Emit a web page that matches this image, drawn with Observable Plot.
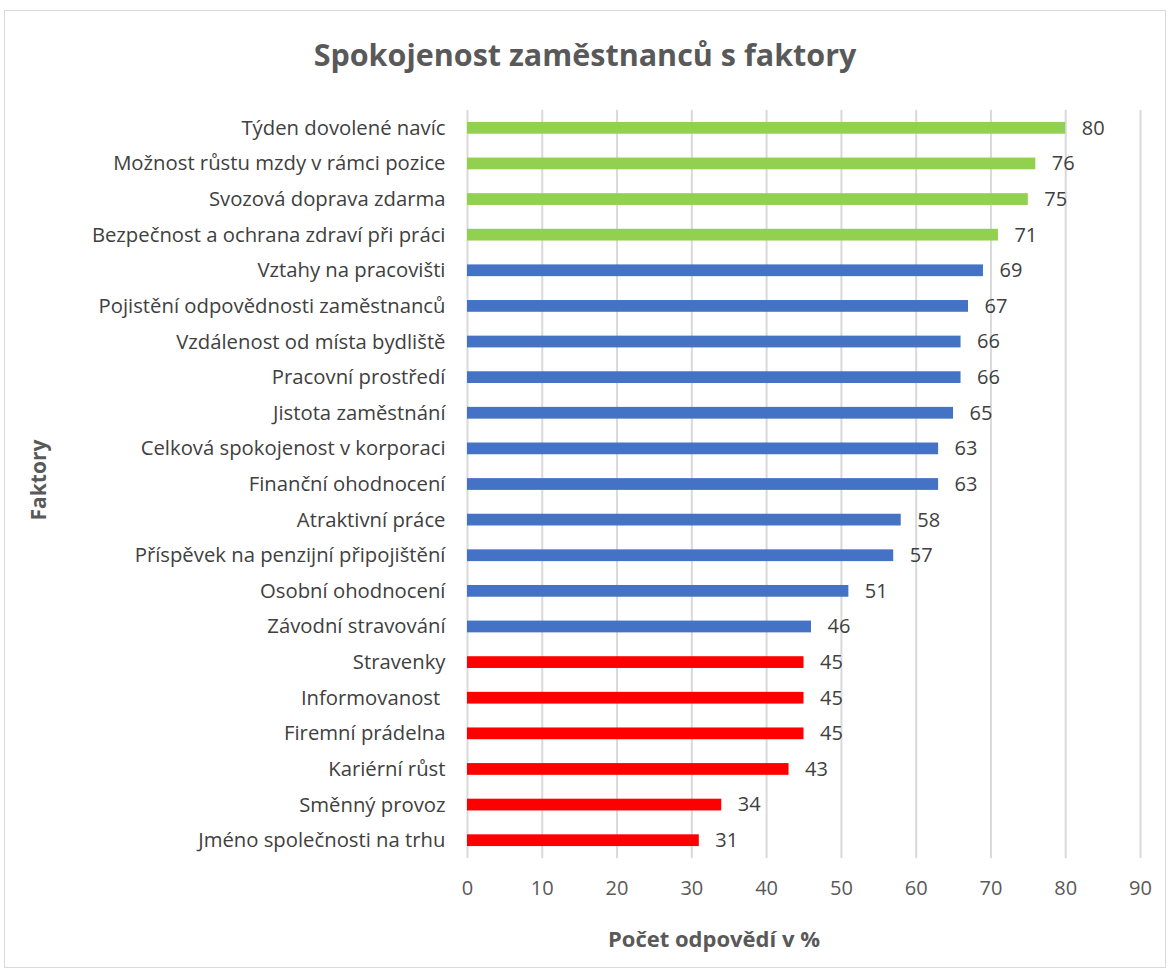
<!DOCTYPE html>
<html>
<head>
<meta charset="utf-8">
<script src="https://cdn.jsdelivr.net/npm/d3@7"></script>
<script src="https://cdn.jsdelivr.net/npm/@observablehq/plot@0.6"></script>
<style>
  html, body { margin: 0; padding: 0; background: #fff; }
  #wrap { position: relative; width: 1170px; height: 971px; overflow: hidden; font-family: "Open Sans", sans-serif; }
  #frame { position: absolute; left: 4px; top: 10px; width: 1162px; height: 958px; border: 1px solid #d9d9d9; box-sizing: border-box; }
  #title { position: absolute; left: 0; width: 1170px; top: 33px; text-align: center; font-size: 30.5px; font-weight: bold; color: #595959; }
  #xlabel { position: absolute; left: 714px; top: 923px; transform: translateX(-50%); font-size: 22px; font-weight: bold; color: #595959; white-space: nowrap; }
  #ylabel { position: absolute; left: 38px; top: 480px; transform: translate(-50%, -50%) rotate(-90deg); font-size: 21px; font-weight: bold; color: #595959; white-space: nowrap; }
  #chart { position: absolute; left: 0; top: 0; }
</style>
</head>
<body>
<div id="wrap">
  <div id="frame"></div>
  <div id="chart"></div>
  <div id="title">Spokojenost zaměstnanců s faktory</div>
  <div id="xlabel">Počet odpovědí v %</div>
  <div id="ylabel">Faktory</div>
</div>
<script>
const categories = [
  "Týden dovolené navíc",
  "Možnost růstu mzdy v rámci pozice",
  "Svozová doprava zdarma",
  "Bezpečnost a ochrana zdraví při práci",
  "Vztahy na pracovišti",
  "Pojistění odpovědnosti zaměstnanců",
  "Vzdálenost od místa bydliště",
  "Pracovní prostředí",
  "Jistota zaměstnání",
  "Celková spokojenost v korporaci",
  "Finanční ohodnocení",
  "Atraktivní práce",
  "Příspěvek na penzijní připojištění",
  "Osobní ohodnocení",
  "Závodní stravování",
  "Stravenky",
  "Informovanost ",
  "Firemní prádelna",
  "Kariérní růst",
  "Směnný provoz",
  "Jméno společnosti na trhu"
];
const values = [80, 76, 75, 71, 69, 67, 66, 66, 65, 63, 63, 58, 57, 51, 46, 45, 45, 45, 43, 34, 31];
const groups = ["high","high","high","high","mid","mid","mid","mid","mid","mid","mid","mid","mid","mid","mid","low","low","low","low","low","low"];
const groupNames = ["high", "mid", "low"];
const groupColors = ["#92D050", "#4472C4", "#FF0000"];
const xTicks = [0, 10, 20, 30, 40, 50, 60, 70, 80, 90];

const data = categories.map((c, i) => ({factor: c, value: values[i], group: groups[i]}));

const chart = Plot.plot({
  width: 1170,
  height: 971,
  marginLeft: 467,
  marginRight: 30,
  marginTop: 110,
  marginBottom: 113,
  style: { fontFamily: "Open Sans, sans-serif", background: "transparent" },
  x: { domain: [0, 90], ticks: xTicks, label: null },
  y: { domain: categories, paddingInner: 0.67, paddingOuter: 0.335, round: false, label: null },
  color: { domain: groupNames, range: groupColors },
  marks: [
    Plot.gridX(xTicks, { stroke: "#d9d9d9", strokeOpacity: 1, strokeWidth: 2 }),
    Plot.barX(data, { y: "factor", x: "value", fill: "group" }),
    Plot.text(data, { y: "factor", x: "value", text: d => String(d.value), dx: 16, textAnchor: "start", fontSize: 20, fill: "#404040" }),
    Plot.axisX({ ticks: xTicks, tickSize: 0, tickPadding: 22, fontSize: 20, color: "#595959", label: null }),
    Plot.axisY({ tickSize: 0, tickPadding: 22, fontSize: 20.3, color: "#404040", label: null })
  ]
});
document.getElementById("chart").appendChild(chart);
</script>
</body>
</html>
